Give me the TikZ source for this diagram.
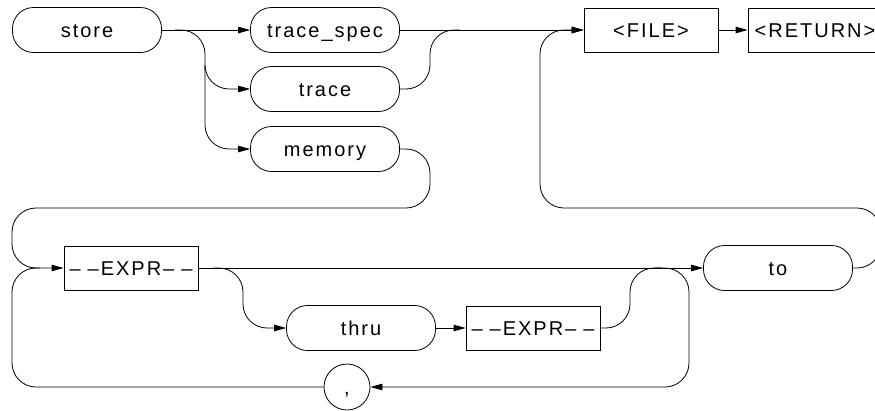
\documentclass[tikz,border=0pt]{standalone}
\usepackage{fontspec}
\setmainfont{Liberation Sans}[LetterSpace=10]
\usetikzlibrary{arrows.meta}
\newcommand\dsh{\textendash}
\newcommand\exprtxt{\dsh\hspace{7pt}\dsh\hspace{2pt}EXPR\hspace{2pt}\dsh\hspace{7pt}\dsh}
\begin{document}
\begin{tikzpicture}[x=1pt,y=-1pt,line width=0.8pt,
  lbl/.style={font=\fontsize{20}{22}\selectfont,text height=16pt,text depth=1pt},
  term/.style={lbl,draw,rounded corners=21pt,minimum width=149pt,minimum height=45pt,inner sep=0pt},
  nonterm/.style={lbl,draw,minimum width=134pt,minimum height=44pt,inner sep=0pt},
  circ/.style={lbl,draw,circle,minimum size=46pt,inner sep=0pt},
  conn/.style={rounded corners=24pt},
  arr/.style={-{Triangle[length=12pt,width=6.5pt]}}
]
\useasboundingbox (0,0) rectangle (875,410);
% nodes
\node[term] (store) at (87,30) {store};
\node[term] (tspec) at (325,30) {trace\_spec};
\node[term] (trace) at (325,89) {trace};
\node[term] (memory) at (325,149) {memory};
\node[nonterm] (file) at (651,30) {<FILE>};
\node[nonterm] (ret) at (815,30) {<RETURN>};
\node[nonterm] (expra) at (131,268) {\exprtxt};
\node[term] (to) at (778,268) {to};
\node[term] (thru) at (361,328) {thru};
\node[nonterm] (exprb) at (533,328) {\exprtxt};
\node[circ] (comma) at (347,387) {,};
% helper coordinates
\coordinate (b1) at (175,30);
\coordinate (b1v) at (205,70);
\coordinate (j1) at (460,30);
\coordinate (b2) at (213,268);
\coordinate (j2) at (662,268);
\coordinate (b3) at (655,268);
\coordinate (j3) at (40,268);
% connectors
\draw[arr] (store.east) -- (tspec.west);
\draw[conn,arr] (b1) -| (205,149) -- (memory.west);
\draw[conn,arr] (b1v) |- (trace.west);
\draw[conn] (trace.east) -- (430,89) -- (430,30) -- (j1);
\draw[arr] (tspec.east) -- (file.west);
\draw[arr] (file.east) -- (ret.west);
\draw[conn,arr] (to.east) -- (881,268) -- (881,208) -- (540,208) -- (540,30) -- (file.west);
\draw[conn,arr] (memory.east) -- (430,149) -- (430,208) -- (12,208) -- (12,268) -- (expra.west);
\draw[arr] (expra.east) -- (to.west);
\draw[conn,arr] (b2) -| (243,328) -- (thru.west);
\draw[arr] (thru.east) -- (exprb.west);
\draw[conn] (exprb.east) -- (630,328) -- (630,268) -- (j2);
\draw[conn,arr] (b3) -- (689,268) -- (689,387) -- (comma.east);
\draw[conn] (comma.west) -- (12,387) -- (12,268) -- (j3);
\end{tikzpicture}
\end{document}
